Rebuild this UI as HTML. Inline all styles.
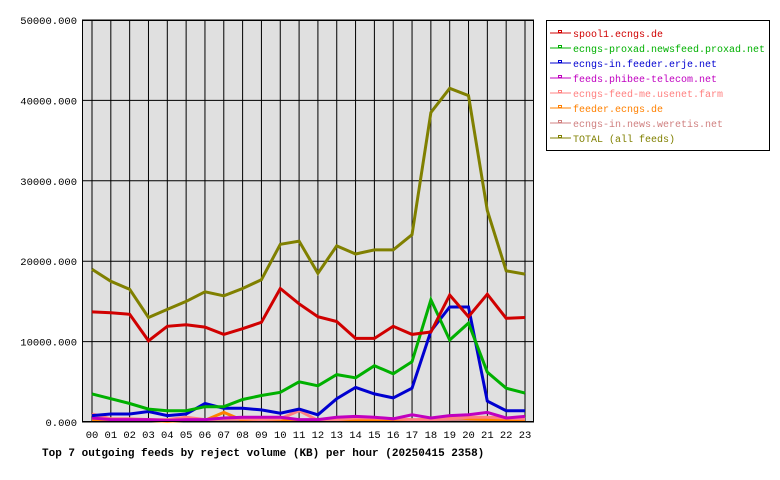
<!DOCTYPE html>
<html><head><meta charset="utf-8"><style>
body{margin:0;background:#fff;}
svg{display:block;font-family:"Liberation Mono","DejaVu Sans Mono",monospace;}
</style></head><body>
<svg id="c" width="780" height="480"></svg>
<script>
const hours=["00","01","02","03","04","05","06","07","08","09","10","11","12","13","14","15","16","17","18","19","20","21","22","23"];
const yTicks=[0,10000,20000,30000,40000,50000];
const seriesNames=["spool1.ecngs.de","ecngs-proxad.newsfeed.proxad.net","ecngs-in.feeder.erje.net","feeds.phibee-telecom.net","ecngs-feed-me.usenet.farm","feeder.ecngs.de","ecngs-in.news.weretis.net","TOTAL (all feeds)"];
const seriesColors=["#d00000","#00b000","#0000d0","#c000c0","#ff8080","#ff8000","#d08080","#808000"];
const spool1=[13.7,13.6,13.4,10.1,11.9,12.1,11.8,10.9,11.6,12.4,16.6,14.7,13.1,12.5,10.4,10.4,11.9,10.9,11.2,15.8,13.1,15.9,12.9,13];
const proxad=[3.5,2.9,2.3,1.6,1.4,1.4,1.9,1.9,2.8,3.3,3.7,5,4.5,5.9,5.5,7,6,7.5,15.2,10.2,12.3,6.2,4.2,3.6];
const erje=[0.8,1,1,1.3,0.8,1,2.3,1.7,1.7,1.5,1.1,1.6,0.9,2.9,4.3,3.5,3,4.2,11.3,14.3,14.3,2.6,1.4,1.4];
const phibee=[0.5,0.3,0.3,0.3,0.2,0.3,0.3,0.5,0.6,0.6,0.6,0.3,0.3,0.6,0.7,0.6,0.4,0.9,0.5,0.8,0.9,1.2,0.5,0.7];
const usenetFarm=[1,0.4,0.4,0.3,0.3,0.6,0.3,0.4,0.4,0.3,0.4,1.4,0.2,0.3,0.5,0.5,0.4,0.3,0.3,0.4,0.6,0.6,0.5,0.4];
const feederEcngs=[0.2,0.2,0.2,0.2,0.1,0.2,0.2,1.2,0.2,0.2,0.2,0.2,0.2,0.2,0.2,0.2,0.2,0.2,0.4,0.7,0.4,0.3,0.2,0.2];
const weretis=[0.2,0.2,0.2,0.2,0.2,0.2,0.2,0.2,0.2,0.2,0.2,0.2,0.2,0.2,0.2,0.2,0.2,0.2,0.2,0.2,0.2,0.2,0.2,0.2];
const total=[19,17.5,16.5,13,14,15,16.2,15.7,16.6,17.7,22.1,22.5,18.5,21.9,20.9,21.4,21.4,23.3,38.5,41.5,40.6,26.3,18.8,18.4];
const seriesData=[spool1,proxad,erje,phibee,usenetFarm,feederEcngs,weretis,total];

const NS="http://www.w3.org/2000/svg";
const svg=document.getElementById('c');
function mk(t,a,p){const e=document.createElementNS(NS,t);for(const k in a)e.setAttribute(k,a[k]);(p||svg).appendChild(e);return e;}
const L=82,R=534,T=20,B=422;
const x=i=>92+i*(525-92)/23;
const y=v=>B-(v/50000)*(B-T);

const bg=mk('rect',{x:L,y:T,width:R-L,height:B-T,fill:'#e0e0e0'});


hours.forEach((h,i)=>{
  const g=mk('line',{x1:x(i),x2:x(i),y1:T,y2:B,stroke:'#000','stroke-width':1});
  
  
  const t=mk('text',{x:x(i),y:438,'text-anchor':'middle','font-size':10.5,fill:'#000'});
  t.textContent=h;
  
  
});
yTicks.forEach(v=>{
  const g=mk('line',{x1:L,x2:R,y1:y(v),y2:y(v),stroke:'#000','stroke-width':1});
  
  
  const t=mk('text',{x:77,y:y(v)+4,'text-anchor':'end','font-size':10.5,fill:'#000'});
  t.textContent=v.toFixed(3);
  
  
});
const order=[6,5,4,3,2,1,0,7];
order.forEach(s=>{
  const d=seriesData[s].map((v,i)=>(i?'L':'M')+x(i).toFixed(1)+','+y(v*1000).toFixed(1)).join(' ');
  const p=mk('path',{d:d,fill:'none',stroke:seriesColors[s],'stroke-width':3,'stroke-linejoin':'miter'});
  
  
});
const fr=mk('rect',{x:L+0.5,y:T+0.5,width:R-L-1,height:B-T-1,fill:'none',stroke:'#000'});



const lg=mk('rect',{x:546.5,y:20.5,width:223,height:130,fill:'#fff',stroke:'#000'});


seriesNames.forEach((n,i)=>{
  const yy=33+i*15;
  const g=mk('g',{});
  
  
  mk('line',{x1:550,x2:571,y1:yy,y2:yy,stroke:seriesColors[i],'stroke-width':1},g);
  mk('rect',{x:558.5,y:yy-2.5,width:3,height:2,fill:'none',stroke:seriesColors[i],'stroke-width':1},g);
  const t=mk('text',{x:573,y:yy+4,'font-size':10,fill:seriesColors[i]},g);
  t.textContent=n;
});
const title=mk('text',{x:42,y:456,'font-size':11,'font-weight':'bold',fill:'#000'});
title.textContent="Top 7 outgoing feeds by reject volume (KB) per hour (20250415 2358)";


</script>
</body></html>
